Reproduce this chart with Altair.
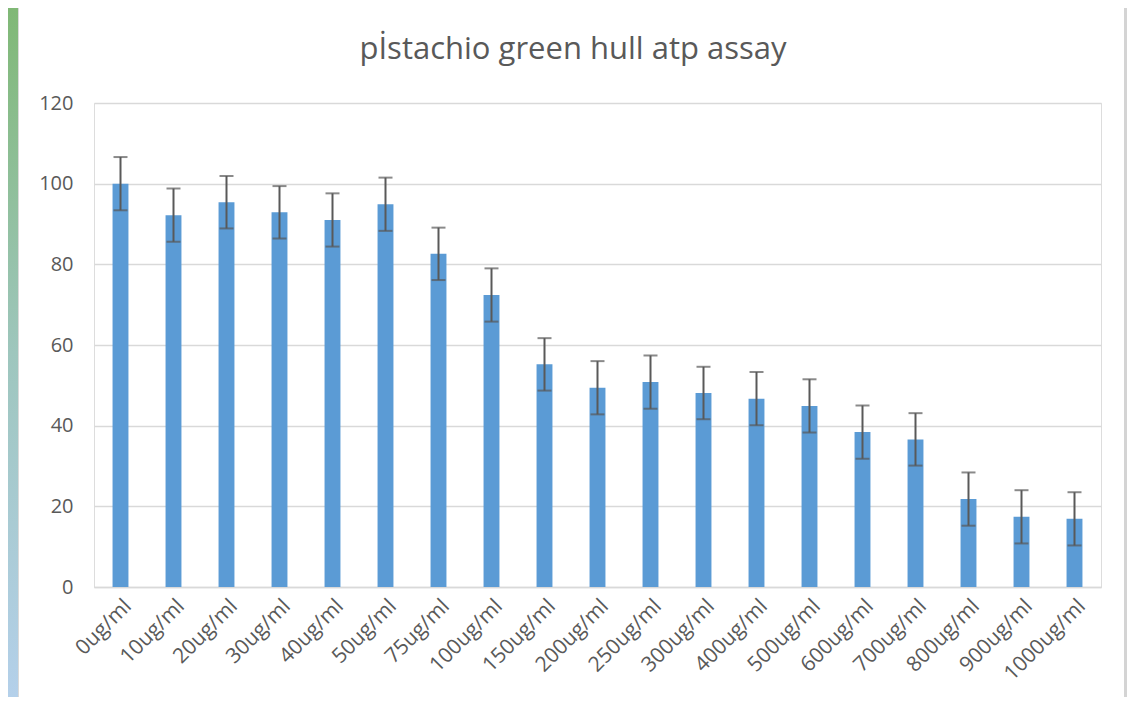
import altair as alt
import pandas as pd

categories = ["0ug/ml", "10ug/ml", "20ug/ml", "30ug/ml", "40ug/ml", "50ug/ml", "75ug/ml",
              "100ug/ml", "150ug/ml", "200ug/ml", "250ug/ml", "300ug/ml", "400ug/ml",
              "500ug/ml", "600ug/ml", "700ug/ml", "800ug/ml", "900ug/ml", "1000ug/ml"]
values = [100, 92.2, 95.4, 92.9, 91.0, 94.9, 82.6, 72.4, 55.2, 49.4, 50.8, 48.1, 46.7,
          44.9, 38.4, 36.6, 21.8, 17.4, 16.9]
errors = [6.6, 6.6, 6.5, 6.5, 6.6, 6.6, 6.5, 6.6, 6.5, 6.6, 6.6, 6.5, 6.6, 6.6, 6.6,
          6.5, 6.6, 6.6, 6.6]
title_text = "pİstachio green hull atp assay"

df = pd.DataFrame({"cat": categories, "val": values, "err": errors})
df["lo"] = df["val"] - df["err"]
df["hi"] = df["val"] + df["err"]

FONT = "Open Sans"
GREY = "#595959"

xenc = alt.X("cat:N", sort=categories, title=None,
             scale=alt.Scale(paddingInner=0.7, paddingOuter=0.35),
             axis=alt.Axis(labelAngle=-45, labelFont=FONT, labelFontSize=21,
                           labelColor=GREY, ticks=False, domain=True,
                           domainColor="#d9d9d9", domainWidth=1.5, labelPadding=8))
yscale = alt.Scale(domain=[0, 120])

base = alt.Chart(df)

bars = base.mark_bar(color="#5b9bd5").encode(
    x=xenc,
    y=alt.Y("val:Q", scale=yscale, title=None,
            axis=alt.Axis(values=[0, 20, 40, 60, 80, 100, 120], labelFont=FONT,
                          labelFontSize=20, labelColor=GREY, ticks=False, domain=False,
                          gridColor="#d9d9d9", gridWidth=1.5, labelPadding=21)),
)

rules = base.mark_rule(color=GREY, strokeWidth=2).encode(
    x=alt.X("cat:N", sort=categories),
    y=alt.Y("lo:Q", scale=yscale),
    y2="hi:Q",
)
caps_hi = base.mark_tick(color=GREY, thickness=2, size=14).encode(
    x=alt.X("cat:N", sort=categories), y=alt.Y("hi:Q", scale=yscale))
caps_lo = base.mark_tick(color=GREY, thickness=2, size=14).encode(
    x=alt.X("cat:N", sort=categories), y=alt.Y("lo:Q", scale=yscale))

# chart title (centred on the whole chart area, as in the original)
title_df = pd.DataFrame({"t": [title_text]})
title = alt.Chart(title_df).mark_text(font=FONT, fontSize=31, color=GREY,
                                      baseline="alphabetic", align="center").encode(
    text="t:N", x=alt.value(479), y=alt.value(-44))

# decorative frame (gradient border of the original chart area)
grad = alt.Gradient(gradient="linear", x1=0, x2=0, y1=0, y2=1,
                    stops=[alt.GradientStop(color="#80b876", offset=0),
                           alt.GradientStop(color="#9ec6bd", offset=0.5),
                           alt.GradientStop(color="#b4d0ea", offset=1)])
deco = alt.Chart(pd.DataFrame({"k": [0]}))
left_strip = deco.mark_rect(color=grad).encode(
    x=alt.value(-86), x2=alt.value(-76), y=alt.value(-95), y2=alt.value(594))
left_line = deco.mark_rect(color="#d9d9d9").encode(
    x=alt.value(-76), x2=alt.value(-75), y=alt.value(-95), y2=alt.value(594))
right_line = deco.mark_rect(color="#d4d4d4").encode(
    x=alt.value(1030), x2=alt.value(1033), y=alt.value(-95), y2=alt.value(594))

chart = alt.layer(left_strip, left_line, right_line, title,
                  bars, rules, caps_hi, caps_lo).properties(
    width=1007, height=484,
    autosize=alt.AutoSizeParams(type="none"),
    padding={"left": 86, "top": 95, "right": 26, "bottom": 110},
).configure_view(stroke=None).configure(background="white")

chart.save("out.html", embed_options={"renderer": "svg", "actions": False})
